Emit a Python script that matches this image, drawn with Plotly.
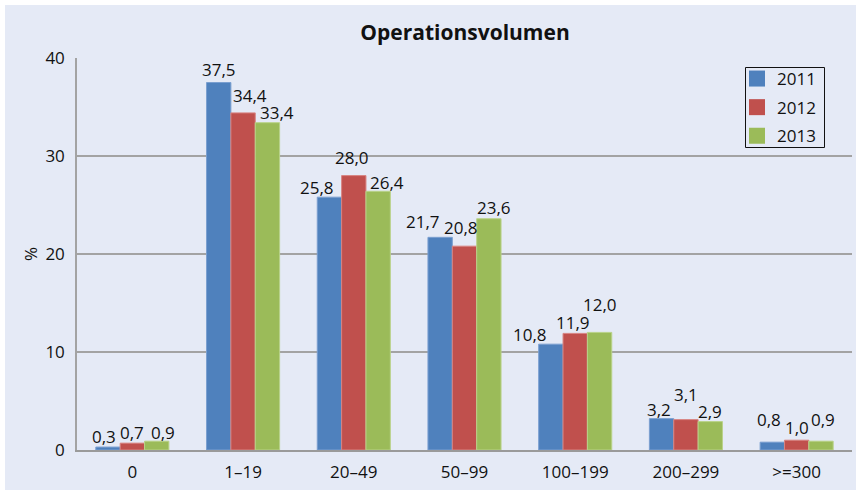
import plotly.graph_objects as go

categories = ["0", "1\u201319", "20\u201349", "50\u201399", "100\u2013199", "200\u2013299", ">=300"]
series_names = ["2011", "2012", "2013"]
values_2011 = [0.3, 37.5, 25.8, 21.7, 10.8, 3.2, 0.8]
values_2012 = [0.7, 34.4, 28.0, 20.8, 11.9, 3.1, 1.0]
values_2013 = [0.9, 33.4, 26.4, 23.6, 12.0, 2.9, 0.9]
y_ticks = [0, 10, 20, 30, 40]

colors = ["#4f81bd", "#c0504d", "#9bbb59"]
edge_colors = ["#7a9fd0", "#d88482", "#b9d389"]

# label nudges (px): (dx, dy) of label centre relative to bar-top centre
label_offsets = [
    [(-4, 11), (0, 13), (-12, 10), (-17, 16), (-21, 10), (-3, 9), (-3, 23)],
    [(0, 11), (7, 17), (-2, 18), (-4, 19), (-2, 11), (0, 25), (0, 13)],
    [(6, 9), (10, 10), (9, 9), (5, 11), (0, 28), (0, 10), (2, 22)],
]

W, H = 856, 494
L, R, T, B = 77, 4, 58, 44
plot_w = W - L - R
plot_h = H - T - B
bargap = 0.34
bar_px = plot_w / len(categories) * (1 - bargap) / 3

bg = "#e5eaf6"
font_family = "Open Sans, Noto Sans, sans-serif"
fs = 17


def px_x(x):
    return (x - L) / plot_w


def px_y(y):
    return (H - B - y) / plot_h


fig = go.Figure()
all_values = [values_2011, values_2012, values_2013]
for i, (name, vals) in enumerate(zip(series_names, all_values)):
    fig.add_trace(go.Bar(
        x=categories, y=vals, name=name, showlegend=False,
        marker=dict(color=colors[i], line=dict(color=edge_colors[i], width=1)),
    ))
for i, name in enumerate(series_names):
    fig.add_trace(go.Scatter(
        x=[None], y=[None], name=name, mode="markers", legendgroup=name,
        marker=dict(symbol="square", size=16, color=colors[i], line=dict(width=0)),
    ))

annotations = []
for i, vals in enumerate(all_values):
    for j, v in enumerate(vals):
        dx, dy = label_offsets[i][j]
        annotations.append(dict(
            x=categories[j], y=v, xref="x", yref="y",
            text=f"{v:.1f}".replace(".", ","),
            showarrow=False, xanchor="center", yanchor="middle",
            xshift=(i - 1) * bar_px + dx, yshift=dy,
            font=dict(family=font_family, size=fs, color="#111111"),
        ))

shapes = [
    # background panel (image has a thin white margin at top/left/bottom)
    dict(type="rect", xref="paper", yref="paper", layer="below",
         x0=px_x(5), x1=px_x(W), y0=px_y(490), y1=px_y(5),
         fillcolor=bg, line=dict(width=0)),
    # legend frame
    dict(type="rect", xref="paper", yref="paper", layer="above",
         x0=px_x(745.5), x1=px_x(824.5), y0=px_y(147.5), y1=px_y(67.5),
         fillcolor="rgba(0,0,0,0)", line=dict(color="#111111", width=1)),
]

annotations.append(dict(
    text="%", xref="paper", yref="paper", x=px_x(30), y=0.5,
    showarrow=False, textangle=-90, xanchor="center", yanchor="middle",
    font=dict(family=font_family, size=fs, color="#111111"),
))

fig.update_layout(
    width=W, height=H,
    margin=dict(l=L, r=R, t=T, b=B, pad=0),
    paper_bgcolor="white", plot_bgcolor="rgba(0,0,0,0)",
    barmode="group", bargap=bargap, bargroupgap=0,
    font=dict(family=font_family, size=fs, color="#111111"),
    title=dict(text="<b>Operationsvolumen</b>", x=px_x(465), xref="paper",
               xanchor="center", y=1 - 33 / H, yref="container", yanchor="middle",
               font=dict(family=font_family, size=21, color="#111111")),
    legend=dict(x=px_x(737), y=px_y(61), xanchor="left", yanchor="top",
                bgcolor="rgba(0,0,0,0)", borderwidth=0,
                font=dict(family=font_family, size=fs, color="#111111"),
                tracegroupgap=3.5, itemwidth=30, itemsizing="trace"),
    annotations=annotations,
    shapes=shapes,
    showlegend=True,
)
fig.update_xaxes(showgrid=False, showline=True, linecolor="#9a9a9a", linewidth=2,
                 ticks="", ticklabelstandoff=6, tickfont=dict(size=fs), fixedrange=True)
fig.update_yaxes(range=[0, 40], tickvals=y_ticks, showgrid=True, gridcolor="#a3a3a3",
                 gridwidth=1.5, showline=True, linecolor="#a3a3a3", linewidth=1.5,
                 zeroline=False, ticks="", ticklabelstandoff=7, tickfont=dict(size=fs),
                 fixedrange=True)

fig.write_html("out.html", config={"displayModeBar": False},
               post_script="document.body.style.margin='0';document.body.style.padding='0';")
